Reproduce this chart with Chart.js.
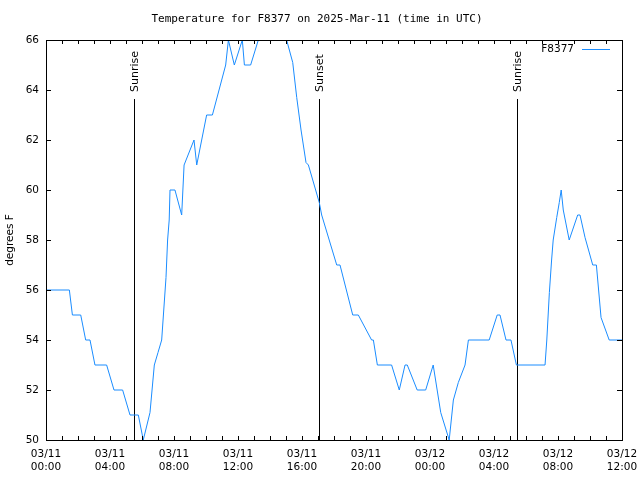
<!DOCTYPE html>
<html>
<head>
<meta charset="utf-8">
<script src="https://cdn.jsdelivr.net/npm/chart.js@4"></script>
<style>
  html, body { margin: 0; padding: 0; background: #fff; }
  #wrap { width: 640px; height: 480px; }
</style>
</head>
<body>
<div id="wrap"><canvas id="tempChart" width="640" height="480"></canvas></div>
<script>
// hours since 03/11 00:00 UTC
const hours = [0, 1.46, 1.65, 2.17, 2.48, 2.75, 3.06, 3.79, 4.25, 4.79, 5.25, 5.77, 6.08, 6.5, 6.77, 7.0, 7.23, 7.5, 7.6, 7.7, 7.75,
  8.06, 8.48, 8.63, 9.25, 9.42, 10.04, 10.4, 11.23, 11.4, 11.77, 12.27, 12.4, 12.79, 13.27, 13.6, 14.2, 14.7, 15.04,
  15.42, 15.67, 15.94, 16.25, 16.4, 17.08, 17.23, 18.17, 18.375, 19.17, 19.52, 20.35, 20.46, 20.71, 21.6, 22.08,
  22.44, 22.58, 23.2, 23.73, 24.2, 24.67, 25.2, 25.46, 25.77, 26.19, 26.4, 27.7, 28.2, 28.375, 28.75, 29.06, 29.4,
  31.19, 31.3, 31.46, 31.6, 31.7, 31.92, 32.08, 32.2, 32.33, 32.7, 33.23, 33.375, 33.69, 34.17, 34.4, 34.69, 35.2, 36];
const temps = [56, 56, 55, 55, 54, 54, 53, 53, 52, 52, 51, 51, 50, 51.1, 53, 53.5, 54, 56.5, 58, 58.8, 60,
  60, 59, 61, 62, 61, 63, 63, 65, 66, 65, 66, 65, 65, 66, 66.6, 67, 66.6, 66,
  65.1, 63.7, 62.4, 61.1, 61, 59.5, 59, 57, 57, 55, 55, 54, 54, 53, 53, 52,
  53, 53, 52, 52, 53, 51.1, 50, 51.6, 52.3, 53, 54, 54, 55, 55, 54, 54, 53,
  53, 54, 55.9, 57.2, 58, 58.9, 59.5, 60, 59.2, 58, 59, 59, 58.1, 57, 57, 54.9, 54, 54];

const sunLabels = ["Sunrise", "Sunset", "Sunrise"];
const sunHours = [5.5, 17.06, 29.44];

const yTicks = [50, 52, 54, 56, 58, 60, 62, 64, 66];
const xLabelEvery = 4;

const SANS = "'DejaVu Sans', sans-serif";
const MONO = "'DejaVu Sans Mono', monospace";

function fmtHour(h) {
  const day = 11 + Math.floor(h / 24);
  const hh = h % 24;
  return ["03/" + day, String(hh).padStart(2, "0") + ":00"];
}

const decorPlugin = {
  id: "decor",
  beforeDatasetsDraw(chart) {
    const { ctx, chartArea, scales } = chart;
    ctx.save();
    ctx.strokeStyle = "#000";
    ctx.lineWidth = 1;
    ctx.fillStyle = "#000";
    ctx.font = "11px " + SANS;
    sunHours.forEach((h, i) => {
      const x = Math.round(scales.x.getPixelForValue(h)) + 0.5;
      ctx.beginPath();
      ctx.moveTo(x, chartArea.top + 59);
      ctx.lineTo(x, chartArea.bottom);
      ctx.stroke();
      ctx.save();
      ctx.translate(x + 1, chartArea.top + 52);
      ctx.rotate(-Math.PI / 2);
      ctx.textAlign = "left";
      ctx.textBaseline = "middle";
      ctx.fillText(sunLabels[i], 0, 0);
      ctx.restore();
    });
    ctx.restore();
  },
  afterDraw(chart) {
    const { ctx, chartArea, scales } = chart;
    const { left, right, top, bottom } = chartArea;
    ctx.save();
    ctx.strokeStyle = "#000";
    ctx.lineWidth = 1;
    ctx.strokeRect(left + 0.5, top + 0.5, right - left, bottom - top);

    ctx.beginPath();
    scales.y.ticks.forEach(t => {
      const y = Math.round(scales.y.getPixelForValue(t.value)) + 0.5;
      ctx.moveTo(left, y); ctx.lineTo(left + 5, y);
      ctx.moveTo(right, y); ctx.lineTo(right - 5, y);
    });
    scales.x.ticks.forEach(t => {
      const x = Math.round(scales.x.getPixelForValue(t.value)) + 0.5;
      ctx.moveTo(x, bottom); ctx.lineTo(x, bottom - 4);
      ctx.moveTo(x, top); ctx.lineTo(x, top + 4);
    });
    ctx.stroke();

    ctx.fillStyle = "#000";
    ctx.font = "11px " + MONO;
    ctx.textAlign = "center";
    ctx.textBaseline = "middle";
    ctx.fillText("Temperature for F8377 on 2025-Mar-11 (time in UTC)", 317, 19);

    ctx.font = "10.5px " + SANS;
    ctx.save();
    ctx.translate(10, (top + bottom) / 2);
    ctx.rotate(-Math.PI / 2);
    ctx.fillText("degrees F", 0, 0);
    ctx.restore();

    // key
    const ds = chart.data.datasets[0];
    ctx.textAlign = "right";
    ctx.fillText(ds.label, right - 48, top + 9);
    ctx.strokeStyle = ds.borderColor;
    ctx.beginPath();
    ctx.moveTo(right - 40, top + 9.5);
    ctx.lineTo(right - 12, top + 9.5);
    ctx.stroke();
    ctx.restore();
  }
};

const ctx = document.getElementById("tempChart").getContext("2d");
new Chart(ctx, {
  type: "line",
  data: {
    datasets: [{
      label: "F8377",
      data: hours.map((h, i) => ({ x: h, y: temps[i] })),
      borderColor: "#1a8cff",
      borderWidth: 1,
      pointRadius: 0,
      tension: 0,
      fill: false
    }]
  },
  options: {
    responsive: false,
    animation: false,
    layout: { padding: { left: 0, right: 18, top: 40, bottom: 0 } },
    plugins: { legend: { display: false }, title: { display: false }, tooltip: { enabled: false } },
    scales: {
      x: {
        type: "linear",
        min: 0,
        max: 36,
        border: { display: false },
        grid: { display: false, drawTicks: false },
        afterFit(scale) {
          scale.height = 40;
          scale.paddingLeft = 0;
          scale.paddingRight = 0;
        },
        ticks: {
          stepSize: 1,
          autoSkip: false,
          maxRotation: 0,
          padding: 7,
          color: "#000",
          font: { family: SANS, size: 10.5, lineHeight: 1.3 },
          callback: v => (v % xLabelEvery === 0 ? fmtHour(v) : "")
        }
      },
      y: {
        min: 50,
        max: 66,
        border: { display: false },
        grid: { display: false, drawTicks: false },
        afterFit(scale) { scale.width = 46; },
        afterBuildTicks(scale) { scale.ticks = yTicks.map(v => ({ value: v })); },
        ticks: {
          padding: 7,
          color: "#000",
          font: { family: SANS, size: 10.5 }
        }
      }
    }
  },
  plugins: [decorPlugin]
});
</script>
</body>
</html>
